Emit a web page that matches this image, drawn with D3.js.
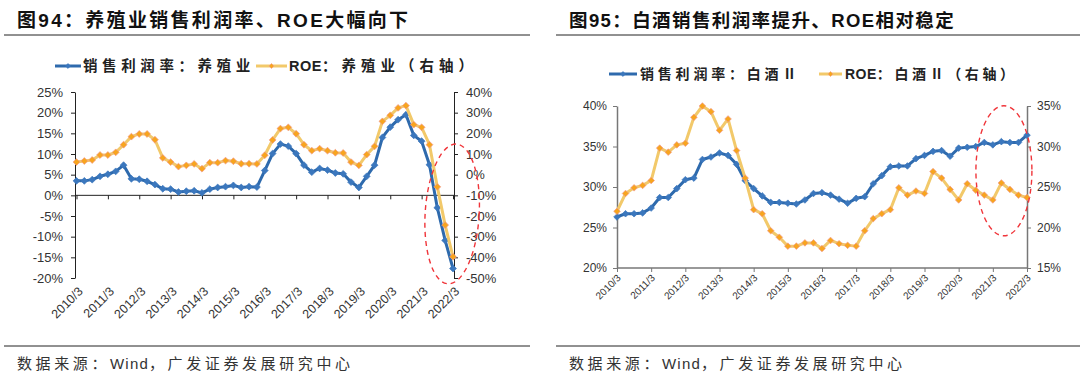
<!DOCTYPE html>
<html><head><meta charset="utf-8">
<script src="https://cdn.jsdelivr.net/npm/d3@7"></script>
<style>
html,body{margin:0;padding:0;background:#fff;}
svg{display:block;font-family:"Liberation Sans",Arial,"Noto Sans CJK SC",sans-serif;}
</style></head>
<body><svg id="c" width="1080" height="376"></svg>
<script>
// ---------- data ----------
const quarters = [
 "2010/3","2010/6","2010/9","2010/12","2011/3","2011/6","2011/9","2011/12",
 "2012/3","2012/6","2012/9","2012/12","2013/3","2013/6","2013/9","2013/12",
 "2014/3","2014/6","2014/9","2014/12","2015/3","2015/6","2015/9","2015/12",
 "2016/3","2016/6","2016/9","2016/12","2017/3","2017/6","2017/9","2017/12",
 "2018/3","2018/6","2018/9","2018/12","2019/3","2019/6","2019/9","2019/12",
 "2020/3","2020/6","2020/9","2020/12","2021/3","2021/6","2021/9","2021/12","2022/3"];
const tickLabels = ["2010/3","2011/3","2012/3","2013/3","2014/3","2015/3","2016/3",
 "2017/3","2018/3","2019/3","2020/3","2021/3","2022/3"];

// 图94 养殖业
const farmMargin = [3.5,3.5,3.8,4.6,5.1,5.8,7.3,4.0,3.9,3.4,2.6,1.6,1.5,0.8,1.0,1.1,0.6,1.5,1.9,2.1,2.4,1.9,2.1,2.0,
 6.0,10.1,12.4,11.9,10.1,7.3,5.6,6.5,6.1,5.4,5.2,3.2,1.9,4.6,7.3,14.0,16.5,18.3,19.5,14.5,13.1,7.4,-3.0,-10.9,-17.7];
const farmROE = [6.1,6.6,7.1,9.5,9.5,10.8,14.5,18.4,19.7,19.7,16.9,8.1,6.1,3.9,4.5,5.2,2.9,5.8,5.8,6.8,6.5,5.3,5.3,5.2,
 9.4,16.8,22.3,22.9,19.8,14.5,11.6,12.6,11.6,10.6,10.5,6.1,4.5,9.7,13.7,25.8,28.7,32.3,33.4,24.2,22.9,14.5,-5.9,-24.4,-39.7];
const farmLeftTicks = [-20,-15,-10,-5,0,5,10,15,20,25];
const farmRightTicks = [-50,-40,-30,-20,-10,0,10,20,30,40];

// 图95 白酒Ⅱ
const liquorMargin = [26.3,26.7,26.7,26.8,27.4,28.7,28.7,29.8,30.9,31.1,33.4,33.7,34.2,33.9,32.8,30.8,29.8,28.9,28.1,28.1,28.0,27.9,28.4,29.2,29.3,29.0,
 28.5,28.0,28.6,28.8,30.4,31.4,32.5,32.6,32.6,33.5,33.9,34.4,34.5,33.8,34.8,34.9,35.0,35.5,35.2,35.6,35.5,35.5,36.4];
const liquorROE = [22.0,24.2,24.9,25.2,25.8,29.8,29.3,30.2,30.4,33.6,35.0,34.3,32.0,33.4,29.5,26.1,22.2,21.7,19.6,18.8,17.7,17.7,18.1,18.1,17.4,18.4,
 18.0,17.8,17.7,19.6,21.1,21.7,22.2,24.9,24.0,24.5,24.2,26.9,26.1,24.7,23.4,25.4,24.6,24.0,23.4,25.5,24.7,24.0,23.7];
const liquorLeftTicks = [20,25,30,35,40];
const liquorRightTicks = [15,20,25,30,35];

const titles = ["图94：养殖业销售利润率、ROE大幅向下","图95：白酒销售利润率提升、ROE相对稳定"];
const legendNames = [["销售利润率：养殖业","ROE：养殖业（右轴）"],["销售利润率：白酒Ⅱ","ROE：白酒Ⅱ（右轴）"]];
const source = "数据来源：Wind，广发证券发展研究中心";

// ---------- style ----------
const BLUE = "#2e6aad", BLUE_M = "#3b77bd";
const GOLD = "#f2c96a", ORANGE = "#f7a51e", ORANGE_S = "#f19a8c";
const svg = d3.select("#c");
const diamond = d3.symbol().type(d3.symbolDiamond2 || d3.symbolDiamond);

// split a string into latin / non-latin runs so CJK gets wider tracking
function spacedText(sel, str, cjkLs, latinLs){
  const runs = str.match(/[A-Za-z0-9]+|[^A-Za-z0-9]+/g);
  runs.forEach(r=>{
    const latin = /^[A-Za-z0-9]+$/.test(r);
    sel.append("tspan").attr("letter-spacing", latin? latinLs : cjkLs).text(r);
  });
}

function drawChart(o){
  const g = svg.append("g");
  // title + rules
  const t = g.append("text").attr("x",o.titleX).attr("y",27).attr("font-size",o.titleF).attr("font-weight","bold").attr("fill","#111");
  spacedText(t, o.title, o.titleLs, o.titleLs);
  g.append("line").attr("x1",o.ruleX0).attr("x2",o.ruleX1).attr("y1",35).attr("y2",35).attr("stroke","#222").attr("stroke-width",1);
  g.append("line").attr("x1",o.ruleX0).attr("x2",o.ruleX1).attr("y1",346).attr("y2",346).attr("stroke","#222").attr("stroke-width",1);
  const s = g.append("text").attr("x",o.titleX).attr("y",369).attr("font-size",15).attr("fill","#333");
  spacedText(s, source, 3.6, 1.2);

  // legend
  const lg = g.append("g");
  o.legend.forEach((L,i)=>{
    lg.append("line").attr("x1",L.x0).attr("x2",L.x1).attr("y1",o.legY).attr("y2",o.legY)
      .attr("stroke",i? GOLD:BLUE).attr("stroke-width",3);
    lg.append("path").attr("d",diamond.size(16)()).attr("transform",`translate(${(L.x0+L.x1)/2},${o.legY})`)
      .attr("fill",i?ORANGE:BLUE_M).attr("stroke",i?ORANGE_S:BLUE_M).attr("stroke-width",0.6);
    const lt = lg.append("text").attr("x",L.tx).attr("y",o.legY+5).attr("font-size",o.legF).attr("font-weight","bold").attr("fill","#222");
    spacedText(lt, o.legendNames[i], L.ls, 0.5);
  });

  const x = d3.scalePoint().domain(quarters).range([o.px0,o.px1]);
  const yL = d3.scaleLinear().domain(o.yLdom).range([o.yBot,o.yTop]);
  const yR = d3.scaleLinear().domain(o.yRdom).range([o.yBot,o.yTop]);

  // axes
  const axL = g.append("g").attr("transform",`translate(${o.axL},0)`)
    .call(d3.axisLeft(yL).tickValues(o.ticksL).tickSize(4).tickSizeOuter(0).tickFormat(d=>d+"%"));
  const axR = g.append("g").attr("transform",`translate(${o.axR},0)`)
    .call(d3.axisRight(yR).tickValues(o.ticksR).tickSize(4).tickSizeOuter(0).tickFormat(d=>d+"%"));
  [axL,axR].forEach(a=>{
    a.select(".domain").attr("stroke",o.axisColor).attr("stroke-width",o.axisW);
    a.selectAll(".tick line").attr("stroke",o.axisColor);
    a.selectAll("text").attr("font-size",o.yFont).attr("fill","#333").attr("font-family","Liberation Sans, Arial, sans-serif");
  });
  axL.selectAll("text").attr("x",-o.yLabGap);
  axR.selectAll("text").attr("x",o.yLabGap);

  const xAxY = o.xAxisAtZero ? yL(0) : o.yBot;
  const ax = g.append("g").attr("transform",`translate(0,${xAxY})`)
    .call(d3.axisBottom(x).tickValues(tickLabels).tickSize(4).tickSizeOuter(0).tickFormat(""));
  ax.select(".domain").attr("stroke",o.axisColor).attr("stroke-width",o.axisW).attr("d",`M${o.axL},0H${o.axR}`);
  ax.selectAll(".tick line").attr("stroke",o.axisColor);
  g.append("g").selectAll("text").data(tickLabels).join("text")
    .attr("transform",d=>`translate(${x(d)+o.xlabDx},${o.xlabY}) rotate(-45)`)
    .attr("text-anchor","end").attr("dy","0.35em").attr("font-size",o.xFont).attr("fill","#333")
    .attr("font-family","Liberation Sans, Arial, sans-serif").text(d=>d);

  // series
  const series = [{v:o.margin,y:yL,line:BLUE,mf:BLUE_M,ms:BLUE_M},{v:o.roe,y:yR,line:GOLD,mf:ORANGE,ms:ORANGE_S}];
  series.forEach(s=>{
    const ln = d3.line().x((d,i)=>x(quarters[i])).y(d=>s.y(d));
    g.append("path").attr("d",ln(s.v)).attr("fill","none").attr("stroke",s.line).attr("stroke-width",3).attr("stroke-linejoin","round");
    g.append("g").selectAll("path").data(s.v).join("path").attr("d",diamond.size(o.msize)())
      .attr("transform",(d,i)=>`translate(${x(quarters[i])},${s.y(d)})`)
      .attr("fill",s.mf).attr("stroke",s.ms).attr("stroke-width",0.7);
  });

  // red dashed ellipse annotation
  const e = o.ellipse;
  const ecx = x(quarters[e.i])+e.dx, ecy = yL(e.v);
  g.append("ellipse").attr("cx",ecx).attr("cy",ecy).attr("rx",e.rx).attr("ry",e.ry)
    .attr("transform",`rotate(${e.rot},${ecx},${ecy})`)
    .attr("fill","none").attr("stroke","#f0353a").attr("stroke-width",1.4).attr("stroke-dasharray","5,4");
}

drawChart({
  title:titles[0], titleX:17, titleF:19, titleLs:2.3, ruleX0:4, ruleX1:530,
  legendNames:legendNames[0], legY:66, legF:14.5,
  legend:[{x0:55,x1:81,tx:83,ls:4.6},{x0:256,x1:287,tx:289,ls:5}],
  px0:76.5, px1:453, axL:75, axR:454, yTop:92, yBot:278,
  yLdom:[-20,25], yRdom:[-50,40], ticksL:farmLeftTicks, ticksR:farmRightTicks,
  axisColor:"#222", axisW:1, yFont:13, yLabGap:12, xFont:12.5, xlabDx:4, xlabY:289,
  xAxisAtZero:true, margin:farmMargin, roe:farmROE, msize:30,
  ellipse:{i:47,dx:7,v:-4.5,rx:27,ry:70,rot:3.5}
});
drawChart({
  title:titles[1], titleX:569, titleF:18.5, titleLs:1.4, ruleX0:556, ruleX1:1080,
  legendNames:legendNames[1], legY:74, legF:14,
  legend:[{x0:609,x1:637,tx:640,ls:3.8},{x0:819,x1:842,tx:845,ls:3.6}],
  px0:617, px1:1027, axL:617, axR:1027, yTop:106, yBot:268,
  yLdom:[20,40], yRdom:[15,35], ticksL:liquorLeftTicks, ticksR:liquorRightTicks,
  axisColor:"#777", axisW:1.5, yFont:12, yLabGap:10, xFont:10, xlabDx:2, xlabY:276,
  xAxisAtZero:false, margin:liquorMargin, roe:liquorROE, msize:28,
  ellipse:{i:46,dx:-6,v:32.0,rx:28,ry:65,rot:0}
});
</script></body></html>
